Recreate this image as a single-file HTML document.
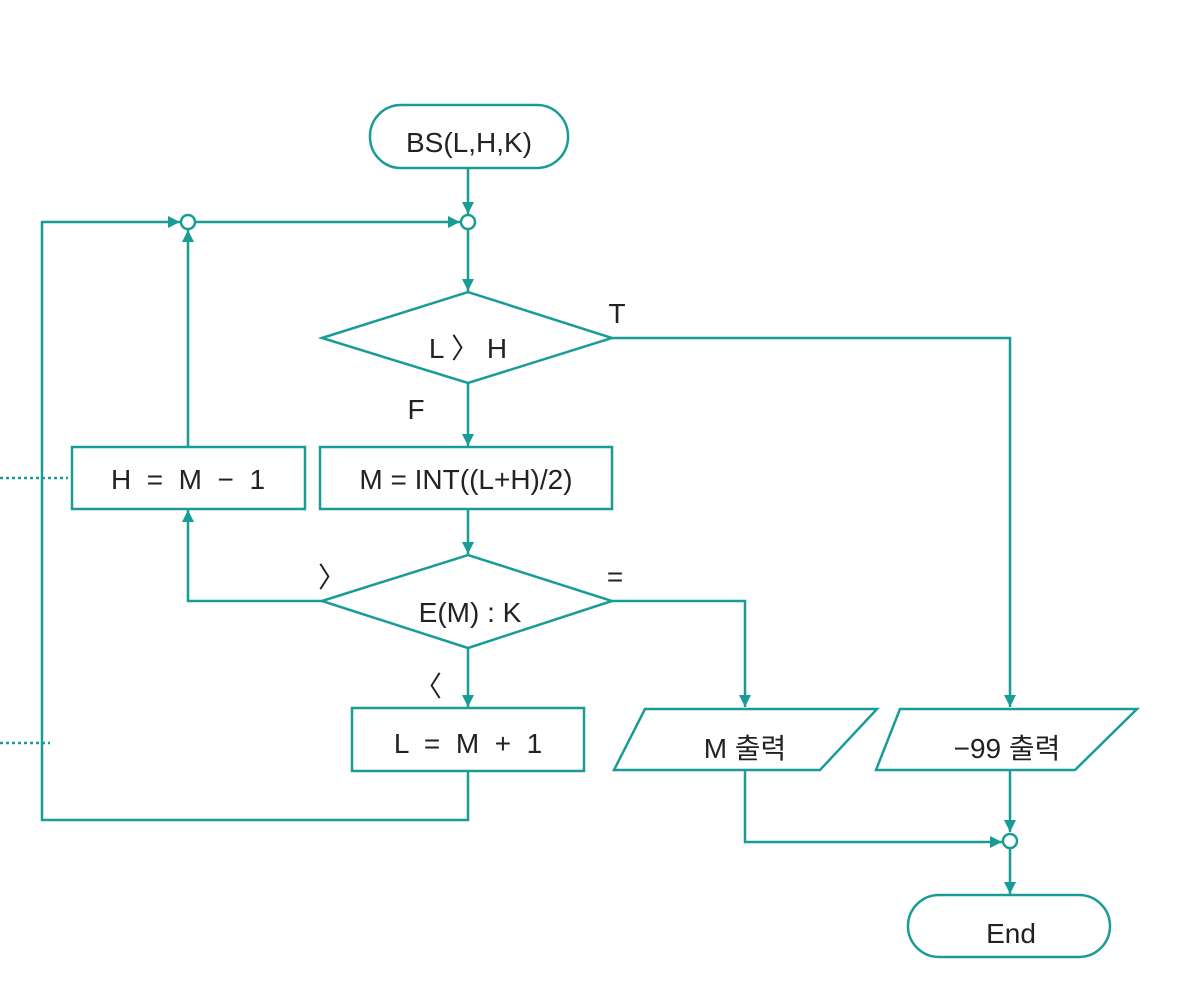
<!DOCTYPE html>
<html><head><meta charset="utf-8"><style>
html,body{margin:0;padding:0;background:#fff;}
text{font-family:"Liberation Sans","Noto Sans CJK KR",sans-serif;fill:#222;}
</style></head><body>
<svg width="1191" height="1000" viewBox="0 0 1191 1000" xmlns="http://www.w3.org/2000/svg">
<defs><marker id="a" viewBox="0 0 10 10" refX="10" refY="5" markerWidth="15" markerHeight="12" markerUnits="userSpaceOnUse" orient="auto"><path d="M0,0 L10,5 L0,10 z" fill="#1a9c96"/></marker></defs>
<g stroke="#1a9c96" stroke-width="2.5" fill="none">
<rect x="370" y="105" width="198" height="63" rx="31" fill="#fff"/>
<line x1="468" y1="168" x2="468" y2="214" marker-end="url(#a)"/>
<circle cx="468" cy="222" r="7" fill="#fff"/>
<circle cx="188" cy="222" r="7" fill="#fff"/>
<polyline points="468,771 468,820 42,820 42,222 180,222" marker-end="url(#a)"/>
<line x1="195" y1="222" x2="460" y2="222" marker-end="url(#a)"/>
<line x1="468" y1="229" x2="468" y2="291" marker-end="url(#a)"/>
<polygon points="322,338 468,292 612,338 468,383" fill="#fff"/>
<polyline points="612,338 1010,338 1010,707" marker-end="url(#a)"/>
<line x1="468" y1="383" x2="468" y2="446" marker-end="url(#a)"/>
<rect x="320" y="447" width="292" height="62" fill="#fff"/>
<rect x="72" y="447" width="233" height="62" fill="#fff"/>
<line x1="468" y1="509" x2="468" y2="554" marker-end="url(#a)"/>
<polygon points="322,601 468,555 612,601 468,648" fill="#fff"/>
<polyline points="322,601 188,601 188,510" marker-end="url(#a)"/>
<line x1="188" y1="447" x2="188" y2="230" marker-end="url(#a)"/>
<polyline points="612,601 745,601 745,707" marker-end="url(#a)"/>
<line x1="468" y1="648" x2="468" y2="707" marker-end="url(#a)"/>
<rect x="352" y="708" width="232" height="63" fill="#fff"/>
<polygon points="645,709 877,709 820,770 614,770" fill="#fff"/>
<polygon points="900,709 1137,709 1075,770 876,770" fill="#fff"/>
<line x1="1010" y1="770" x2="1010" y2="832" marker-end="url(#a)"/>
<polyline points="745,770 745,842 1002,842" marker-end="url(#a)"/>
<circle cx="1010" cy="841" r="7" fill="#fff"/>
<line x1="1010" y1="848" x2="1010" y2="894" marker-end="url(#a)"/>
<rect x="908" y="895" width="202" height="62" rx="31" fill="#fff"/>
<line x1="0" y1="478" x2="68" y2="478" stroke-dasharray="3,3"/>
<line x1="0" y1="743" x2="50" y2="743" stroke-dasharray="3,3"/>
</g>
<g font-size="28" text-anchor="middle">
<text x="469" y="152">BS(L,H,K)</text>
<text x="468" y="358">L 〉 H</text>
<text x="617" y="323">T</text>
<text x="416" y="419">F</text>
<text x="466" y="489">M = INT((L+H)/2)</text>
<text x="188" y="489" xml:space="preserve">H  =  M  −  1</text>
<text x="470" y="622">E(M) : K</text>
<text x="332" y="587">〉</text>
<text x="615" y="586">=</text>
<text x="428" y="696">〈</text>
<text x="468" y="753" xml:space="preserve">L  =  M  +  1</text>
<text x="745" y="758">M 출력</text>
<text x="1007" y="758">−99 출력</text>
<text x="1011" y="943">End</text>
</g>
</svg>
</body></html>
